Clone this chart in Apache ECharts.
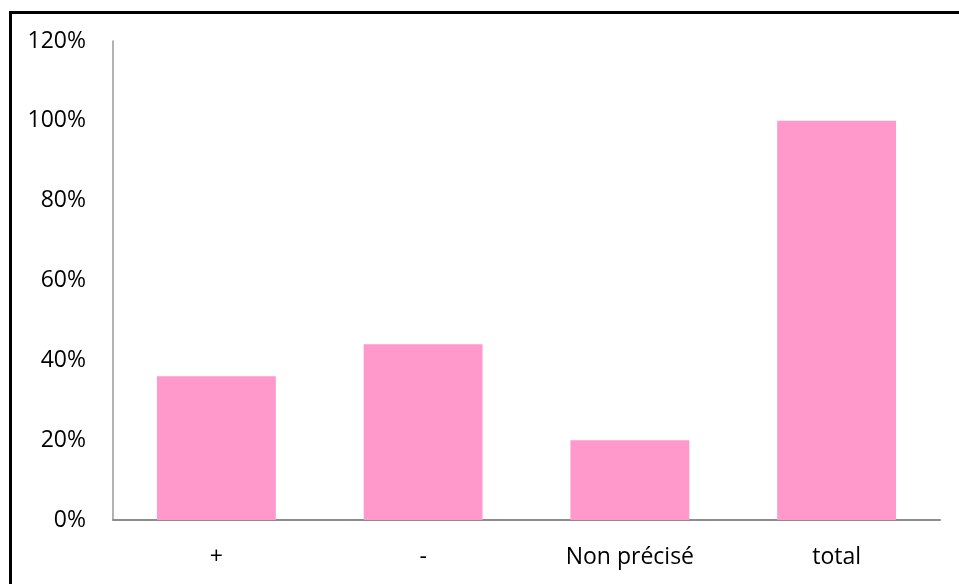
<!DOCTYPE html>
<html>
<head>
<meta charset="utf-8">
<script src="https://cdn.jsdelivr.net/npm/echarts@6/dist/echarts.min.js"></script>
<style>
html,body{margin:0;padding:0;background:#fff;}
#chart{width:959px;height:584px;}
</style>
</head>
<body>
<div id="chart"></div>
<script>
const categories = ['+', '-', 'Non précisé', 'total'];
const values = [36, 44, 20, 100];
const yTicks = [0, 20, 40, 60, 80, 100, 120];

const chart = echarts.init(document.getElementById('chart'), null, {renderer: 'canvas'});
const font = '"Open Sans", "Liberation Sans", sans-serif';
chart.setOption({
  animation: false,
  backgroundColor: '#ffffff',
  grid: {left: 113, right: 19, top: 41, bottom: 64, containLabel: false},
  xAxis: {
    type: 'category',
    data: categories,
    axisLine: {show: true, lineStyle: {color: '#8c8c8c', width: 2}},
    axisTick: {show: false},
    axisLabel: {color: '#000', fontSize: 23, fontFamily: font, margin: 26}
  },
  yAxis: {
    type: 'value',
    min: yTicks[0],
    max: yTicks[yTicks.length - 1],
    interval: 20,
    axisLine: {show: true, lineStyle: {color: '#999999', width: 1.5}},
    axisTick: {show: false},
    splitLine: {show: false},
    axisLabel: {color: '#000', fontSize: 23, fontFamily: font, margin: 27, formatter: '{value}%'}
  },
  series: [{
    type: 'bar',
    data: values,
    barWidth: '57.5%',
    itemStyle: {color: '#FF99CC'}
  }],
  graphic: [{
    type: 'polyline',
    shape: {points: [[10.5, 584], [10.5, 12.5], [959, 12.5]]},
    style: {stroke: '#000', lineWidth: 3, fill: null}
  }]
});
</script>
</body>
</html>
